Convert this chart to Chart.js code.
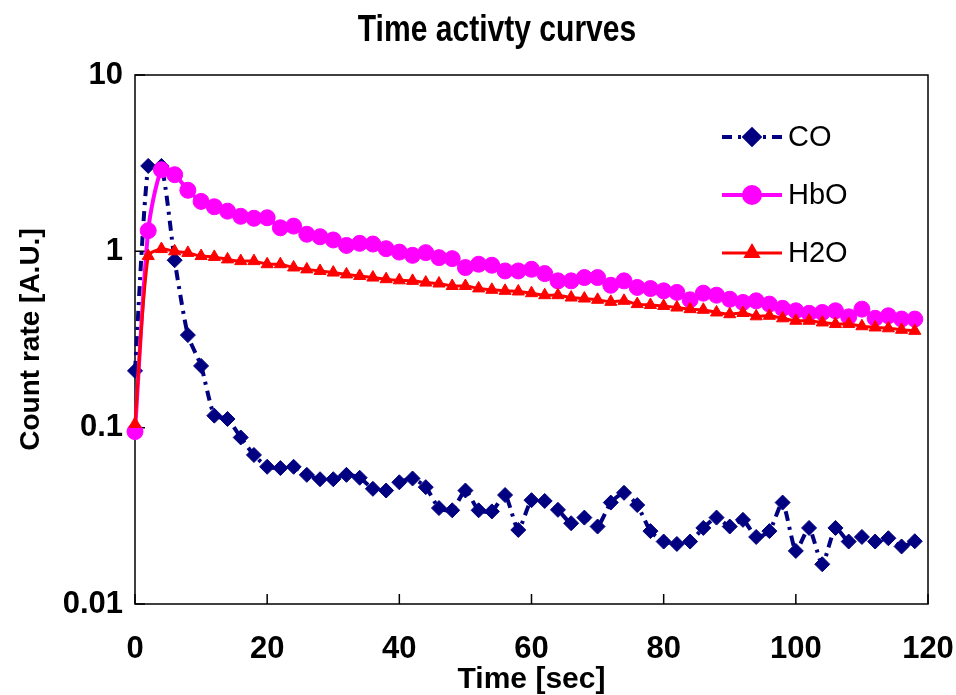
<!DOCTYPE html>
<html>
<head>
<meta charset="utf-8">
<script src="https://cdn.jsdelivr.net/npm/chart.js@4.4.0/dist/chart.umd.min.js"></script>
<style>
  body { margin: 0; background: #fff; }
  #contenitore { width: 956px; height: 695px; }
</style>
</head>
<body>
<div id="contenitore"><canvas id="graficoCurve" width="956" height="695"></canvas></div>
<script>
// tempi di campionamento [sec]
const tempi = [0, 2, 4, 6, 8, 10, 12, 14, 16, 18, 20, 22, 24, 26, 28, 30, 32, 34, 36, 38,
               40, 42, 44, 46, 48, 50, 52, 54, 56, 58, 60, 62, 64, 66, 68, 70, 72, 74, 76, 78,
               80, 82, 84, 86, 88, 90, 92, 94, 96, 98, 100, 102, 104, 106, 108, 110, 112, 114, 116, 118];

const valoriCO = [0.21, 3.05, 3.05, 0.89, 0.335, 0.224, 0.117, 0.112, 0.088, 0.070,
                  0.060, 0.059, 0.060, 0.054, 0.051, 0.051, 0.054, 0.052, 0.045, 0.044,
                  0.049, 0.0515, 0.046, 0.035, 0.034, 0.044, 0.034, 0.0335, 0.0415, 0.0263,
                  0.0388, 0.0384, 0.0342, 0.0287, 0.0309, 0.0275, 0.0376, 0.0427, 0.0364, 0.0259,
                  0.0226, 0.0219, 0.0226, 0.027, 0.0309, 0.0275, 0.030, 0.024, 0.0259, 0.0376,
                  0.020, 0.027, 0.0168, 0.027, 0.0226, 0.024, 0.0226, 0.0236, 0.0212, 0.0227];

const valoriHbO = [0.095, 1.31, 2.90, 2.72, 2.22, 1.92, 1.79, 1.69, 1.58, 1.54,
                   1.55, 1.36, 1.39, 1.25, 1.21, 1.16, 1.08, 1.11, 1.10, 1.035,
                   0.99, 0.949, 0.983, 0.921, 0.909, 0.809, 0.845, 0.834, 0.774, 0.774,
                   0.791, 0.748, 0.68, 0.68, 0.71, 0.71, 0.642, 0.68, 0.624, 0.615,
                   0.597, 0.585, 0.531, 0.579, 0.564, 0.535, 0.513, 0.524, 0.502, 0.475,
                   0.46, 0.445, 0.45, 0.46, 0.425, 0.47, 0.417, 0.431, 0.413, 0.413];

const valoriH2O = [0.105, 0.94, 1.03, 1.00, 0.98, 0.94, 0.93, 0.90, 0.88, 0.88,
                   0.845, 0.845, 0.81, 0.79, 0.774, 0.758, 0.74, 0.725, 0.71, 0.695,
                   0.685, 0.68, 0.665, 0.657, 0.636, 0.636, 0.616, 0.605, 0.597, 0.592,
                   0.579, 0.564, 0.564, 0.547, 0.54, 0.531, 0.517, 0.524, 0.502, 0.496,
                   0.49, 0.48, 0.47, 0.466, 0.45, 0.44, 0.447, 0.428, 0.431, 0.417,
                   0.404, 0.404, 0.395, 0.387, 0.387, 0.376, 0.37, 0.366, 0.359, 0.354];

const tickY = [0.01, 0.1, 1, 10];

const titolo = 'Time activty curves';
const fontBase = '"Liberation Sans", Arial, sans-serif';

function coppie(valori) {
    return tempi.map((t, i) => ({ x: t, y: valori[i] }));
}

// titolo in alto, un po' stretto come nell'originale
const titoloStretto = {
    id: 'titoloStretto',
    afterDraw(chart) {
        const ctx = chart.ctx;
        ctx.save();
        ctx.translate(497, 31);
        ctx.scale(0.835, 1);
        ctx.fillStyle = '#000';
        ctx.font = 'bold 36px ' + fontBase;
        ctx.textAlign = 'center';
        ctx.textBaseline = 'middle';
        ctx.fillText(titolo, 0, 0);
        ctx.restore();
    }
};

// cornice del grafico e tacche verso l'interno
const cornice = {
    id: 'cornice',
    beforeDatasetsDraw(chart) {
        const { ctx, chartArea: a, scales } = chart;
        ctx.save();
        ctx.strokeStyle = '#000';
        ctx.lineWidth = 1.5;
        ctx.strokeRect(a.left, a.top, a.right - a.left, a.bottom - a.top);
        ctx.beginPath();
        scales.x.ticks.forEach(t => {
            const px = scales.x.getPixelForValue(t.value);
            ctx.moveTo(px, a.bottom);
            ctx.lineTo(px, a.bottom - 10);
        });
        scales.y.ticks.forEach(t => {
            const py = scales.y.getPixelForValue(t.value);
            ctx.moveTo(a.left, py);
            ctx.lineTo(a.left + 10, py);
        });
        ctx.stroke();
        ctx.restore();
    }
};

// legenda dentro l'area del grafico, in alto a destra
const legendaInterna = {
    id: 'legendaInterna',
    afterDraw(chart) {
        const ctx = chart.ctx;
        const a = chart.chartArea;
        const x0 = a.left + 587;
        const righe = [62, 120, 178];
        chart.data.datasets.forEach((ds, i) => {
            const y = a.top + righe[i];
            ctx.save();
            ctx.strokeStyle = ds.borderColor;
            ctx.lineWidth = ds.borderWidth;
            ctx.setLineDash(ds.borderDash || []);
            ctx.beginPath();
            ctx.moveTo(x0, y);
            ctx.lineTo(x0 + 60, y);
            ctx.stroke();
            ctx.setLineDash([]);
            ctx.fillStyle = ds.pointBackgroundColor;
            ctx.strokeStyle = ds.pointBorderColor;
            Chart.helpers.drawPoint(ctx, {
                pointStyle: ds.pointStyle,
                radius: ds.pointRadius,
                borderWidth: 1,
                rotation: 0
            }, x0 + 30, y);
            ctx.fillStyle = '#000';
            ctx.font = '29px ' + fontBase;
            ctx.textAlign = 'left';
            ctx.textBaseline = 'middle';
            ctx.fillText(ds.label, x0 + 66, y + 1);
            ctx.restore();
        });
    }
};

const ctx = document.getElementById('graficoCurve').getContext('2d');

new Chart(ctx, {
    type: 'line',
    data: {
        datasets: [{
            label: 'CO',
            data: coppie(valoriCO),
            borderColor: '#000080',
            backgroundColor: '#000080',
            borderWidth: 4,
            borderDash: [10, 6, 3, 6],
            pointStyle: 'rectRot',
            pointRadius: 7.5,
            pointBackgroundColor: '#000080',
            pointBorderColor: '#000080',
            pointBorderWidth: 1,
            tension: 0.2,
            clip: false,
            order: 3
        }, {
            label: 'HbO',
            data: coppie(valoriHbO),
            borderColor: '#FF00FF',
            backgroundColor: '#FF00FF',
            borderWidth: 4,
            pointStyle: 'circle',
            pointRadius: 8,
            pointBackgroundColor: '#FF00FF',
            pointBorderColor: '#FF00FF',
            pointBorderWidth: 1,
            tension: 0.25,
            clip: false,
            order: 2
        }, {
            label: 'H2O',
            data: coppie(valoriH2O),
            borderColor: '#FF0000',
            backgroundColor: '#FF0000',
            borderWidth: 3,
            pointStyle: 'triangle',
            pointRadius: 7,
            pointBackgroundColor: '#FF0000',
            pointBorderColor: '#FF0000',
            pointBorderWidth: 1,
            tension: 0.25,
            clip: false,
            order: 1
        }]
    },
    options: {
        responsive: false,
        animation: false,
        layout: { padding: { left: 0, right: 28, top: 75, bottom: 0 } },
        scales: {
            x: {
                type: 'linear',
                min: 0,
                max: 120,
                grid: { display: false, drawTicks: false },
                border: { display: false },
                ticks: {
                    stepSize: 20,
                    padding: 27,
                    color: '#000',
                    font: { family: fontBase, size: 31, weight: 'bold' }
                },
                title: {
                    display: true,
                    text: 'Time [sec]',
                    color: '#000',
                    padding: 0,
                    font: { family: fontBase, size: 30, weight: 'bold', lineHeight: 1.0 }
                },
                afterFit(scale) {
                    scale.height = 91;
                    scale.paddingLeft = 0;
                    scale.paddingRight = 0;
                }
            },
            y: {
                type: 'logarithmic',
                min: 0.01,
                max: 10,
                grid: { display: false, drawTicks: false },
                border: { display: false },
                afterBuildTicks(scale) {
                    scale.ticks = tickY.map(v => ({ value: v }));
                },
                ticks: {
                    padding: 12,
                    color: '#000',
                    font: { family: fontBase, size: 31, weight: 'bold' },
                    callback: v => String(v)
                },
                title: {
                    display: true,
                    text: 'Count rate [A.U.]',
                    color: '#000',
                    padding: { top: 14, bottom: 0 },
                    font: { family: fontBase, size: 28, weight: 'bold' }
                },
                afterFit(scale) {
                    scale.width = 135;
                    scale.paddingTop = 0;
                    scale.paddingBottom = 0;
                }
            }
        },
        plugins: {
            legend: { display: false },
            tooltip: { enabled: false },
            title: { display: false }
        }
    },
    plugins: [cornice, legendaInterna, titoloStretto]
});
</script>
</body>
</html>
